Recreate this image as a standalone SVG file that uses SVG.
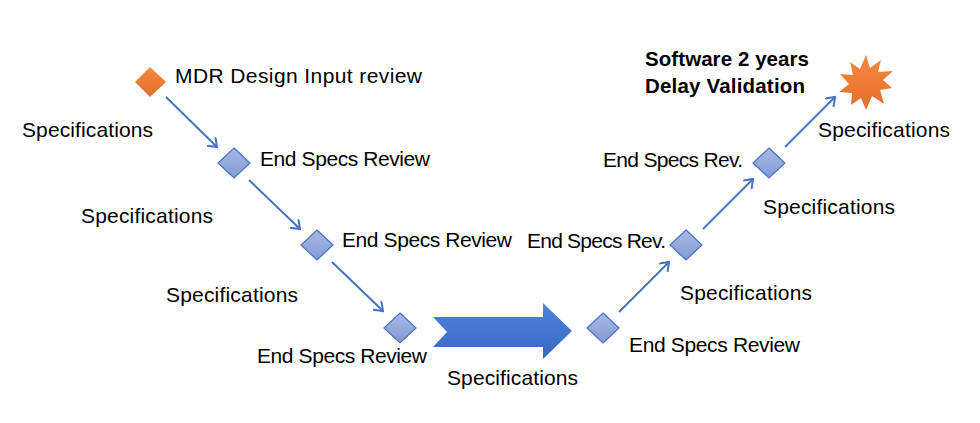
<svg xmlns="http://www.w3.org/2000/svg" width="980" height="423" viewBox="0 0 980 423">
<defs>
<style>
.t{font-family:"Liberation Sans",Arial,sans-serif;font-size:21px;fill:#000}
.b{font-family:"Liberation Sans",Arial,sans-serif;font-size:20.5px;font-weight:bold;fill:#000}
.d{fill:url(#gb);stroke:#4472C4;stroke-width:1.2}
.c{stroke:#4472C4;stroke-width:2;fill:none;marker-end:url(#ah)}
</style>
<linearGradient id="gb" x1="0" y1="0" x2="0" y2="1"><stop offset="0" stop-color="#A9BBE4"/><stop offset="1" stop-color="#8299D3"/></linearGradient>
<linearGradient id="go" x1="0" y1="0" x2="0" y2="1"><stop offset="0" stop-color="#F4883F"/><stop offset="1" stop-color="#E5702A"/></linearGradient>
<linearGradient id="gbig" x1="0" y1="0" x2="0" y2="1"><stop offset="0" stop-color="#4F84DA"/><stop offset="1" stop-color="#3766C2"/></linearGradient>
<marker id="ah" markerWidth="14" markerHeight="14" refX="10" refY="6" orient="auto" markerUnits="userSpaceOnUse"><path d="M2,0 L10,6 L2,12" fill="none" stroke="#4472C4" stroke-width="2"/></marker>
</defs>
<rect width="980" height="423" fill="#fff"/>
<g id="connectors">
<path class="c" d="M166,97 L217,147"/>
<path class="c" d="M249,180 L300,229"/>
<path class="c" d="M332,262 L383,311"/>
<path class="c" d="M619,312 L669,262"/>
<path class="c" d="M703,229 L753,179"/>
<path class="c" d="M785,147 L835,97"/>
<polygon id="bigArrow" points="433,317 543,317 543,303 572,331 543,359 543,347 433,347 447,332" fill="url(#gbig)"/>
</g>
<g id="start">
<polygon points="150,67 166,82 150,97 135,82" fill="url(#go)"/>
<text class="t" x="175" y="83" textLength="247">MDR Design Input review</text>
</g>
<g id="n1">
<polygon class="d" points="234,148 250,163 234,178 218,163"/>
<text class="t" x="260" y="166" textLength="170">End Specs Review</text>
</g>
<g id="n2">
<polygon class="d" points="317,230 333,245 317,260 301,245"/>
<text class="t" x="342" y="247" textLength="170">End Specs Review</text>
</g>
<g id="n3">
<polygon class="d" points="400,313 416,328 400,343 384,328"/>
<text class="t" x="257" y="363" textLength="170">End Specs Review</text>
</g>
<g id="n4">
<polygon class="d" points="603,313 619,328 603,343 587,328"/>
<text class="t" x="629" y="352" textLength="171">End Specs Review</text>
</g>
<g id="n5">
<polygon class="d" points="686,230 702,245 686,260 670,245"/>
<text class="t" x="527" y="248" textLength="139">End Specs Rev.</text>
</g>
<g id="n6">
<polygon class="d" points="769,148 785,163 769,178 753,163"/>
<text class="t" x="603" y="167" textLength="140">End Specs Rev.</text>
</g>
<g id="end">
<polygon points="866,55 870,68 881,60 878,72 893,71 883,80 892,88 880,90 884,104 872,96 866,110 861,98 851,105 852,93 839,92 849,84 840,74 853,75 850,62 860,69" fill="url(#go)"/>
<text class="b" x="645" y="66" textLength="164">Software 2 years</text>
<text class="b" x="645" y="93" textLength="160">Delay Validation</text>
</g>
<g id="labels">
<text class="t" x="22" y="137" textLength="131">Specifications</text>
<text class="t" x="81" y="223" textLength="132">Specifications</text>
<text class="t" x="166" y="302" textLength="132">Specifications</text>
<text class="t" x="447" y="385" textLength="131">Specifications</text>
<text class="t" x="680" y="300" textLength="132">Specifications</text>
<text class="t" x="763" y="214" textLength="132">Specifications</text>
<text class="t" x="818" y="137" textLength="132">Specifications</text>
</g>
</svg>
